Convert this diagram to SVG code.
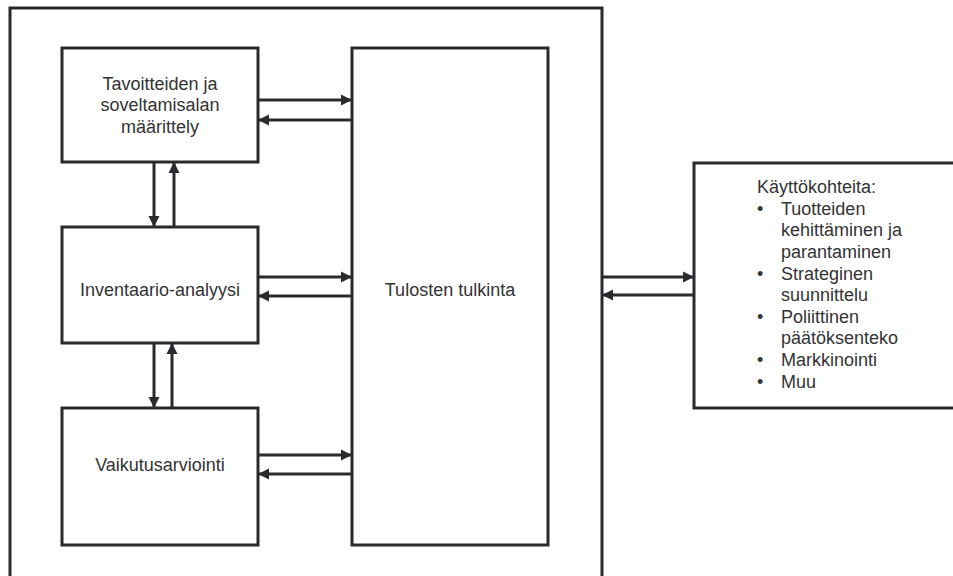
<svg xmlns="http://www.w3.org/2000/svg" width="953" height="576" viewBox="0 0 953 576">
  <style>
    .box { fill: #ffffff; stroke: #2a2a2e; stroke-width: 3; }
    .frame { fill: none; stroke: #2a2a2e; stroke-width: 3; }
    .link { fill: none; stroke: #2a2a2e; stroke-width: 3; marker-end: url(#head); }
    .label { font-family: "Liberation Sans", Arial, sans-serif; font-size: 18px; fill: #333333; }
    .mid { text-anchor: middle; }
  </style>
  <defs>
    <marker id="head" markerUnits="userSpaceOnUse" markerWidth="12" markerHeight="12" viewBox="0 0 12 12" refX="11" refY="6" orient="auto">
      <path d="M0,0.5 L11,6 L0,11.5 Z" fill="#2a2a2e"/>
    </marker>
  </defs>

  <rect width="953" height="576" fill="#ffffff"/>

  <!-- outer frame around the assessment phases -->
  <g id="frame">
    <path class="frame" d="M10,590 L10,8 L602,8 L602,590"/>
  </g>

  <g id="node-goal">
    <rect class="box" x="62" y="48" width="196" height="114"/>
    <text class="label mid" x="160" y="90">Tavoitteiden ja</text>
    <text class="label mid" x="160" y="111">soveltamisalan</text>
    <text class="label mid" x="160" y="133">määrittely</text>
  </g>

  <g id="node-inventory">
    <rect class="box" x="62" y="227" width="196" height="116"/>
    <text class="label mid" x="160" y="296">Inventaario-analyysi</text>
  </g>

  <g id="node-impact">
    <rect class="box" x="62" y="408" width="196" height="137"/>
    <text class="label mid" x="160" y="471">Vaikutusarviointi</text>
  </g>

  <g id="node-interpretation">
    <rect class="box" x="352" y="48" width="196" height="497"/>
    <text class="label mid" x="450" y="296">Tulosten tulkinta</text>
  </g>

  <g id="node-applications">
    <rect class="box" x="694" y="163" width="280" height="245"/>
    <text class="label" x="757" y="193">Käyttökohteita:</text>
    <text class="label" x="757" y="215">•</text>
    <text class="label" x="781" y="215">Tuotteiden</text>
    <text class="label" x="781" y="236">kehittäminen ja</text>
    <text class="label" x="781" y="258">parantaminen</text>
    <text class="label" x="757" y="280">•</text>
    <text class="label" x="781" y="280">Strateginen</text>
    <text class="label" x="781" y="301">suunnittelu</text>
    <text class="label" x="757" y="323">•</text>
    <text class="label" x="781" y="323">Poliittinen</text>
    <text class="label" x="781" y="344">päätöksenteko</text>
    <text class="label" x="757" y="366">•</text>
    <text class="label" x="781" y="366">Markkinointi</text>
    <text class="label" x="757" y="388">•</text>
    <text class="label" x="781" y="388">Muu</text>
  </g>

  <g id="connectors">
    <!-- goal <-> interpretation -->
    <line class="link" x1="258" y1="100" x2="352" y2="100"/>
    <line class="link" x1="352" y1="120" x2="258" y2="120"/>
    <!-- inventory <-> interpretation -->
    <line class="link" x1="258" y1="277" x2="352" y2="277"/>
    <line class="link" x1="352" y1="296" x2="258" y2="296"/>
    <!-- impact <-> interpretation -->
    <line class="link" x1="258" y1="455" x2="352" y2="455"/>
    <line class="link" x1="352" y1="474" x2="258" y2="474"/>
    <!-- goal <-> inventory -->
    <line class="link" x1="154" y1="162" x2="154" y2="227"/>
    <line class="link" x1="174" y1="227" x2="174" y2="162"/>
    <!-- inventory <-> impact -->
    <line class="link" x1="154" y1="343" x2="154" y2="408"/>
    <line class="link" x1="172" y1="408" x2="172" y2="343"/>
    <!-- frame <-> applications -->
    <line class="link" x1="602" y1="277" x2="694" y2="277"/>
    <line class="link" x1="694" y1="295" x2="602" y2="295"/>
  </g>
</svg>
